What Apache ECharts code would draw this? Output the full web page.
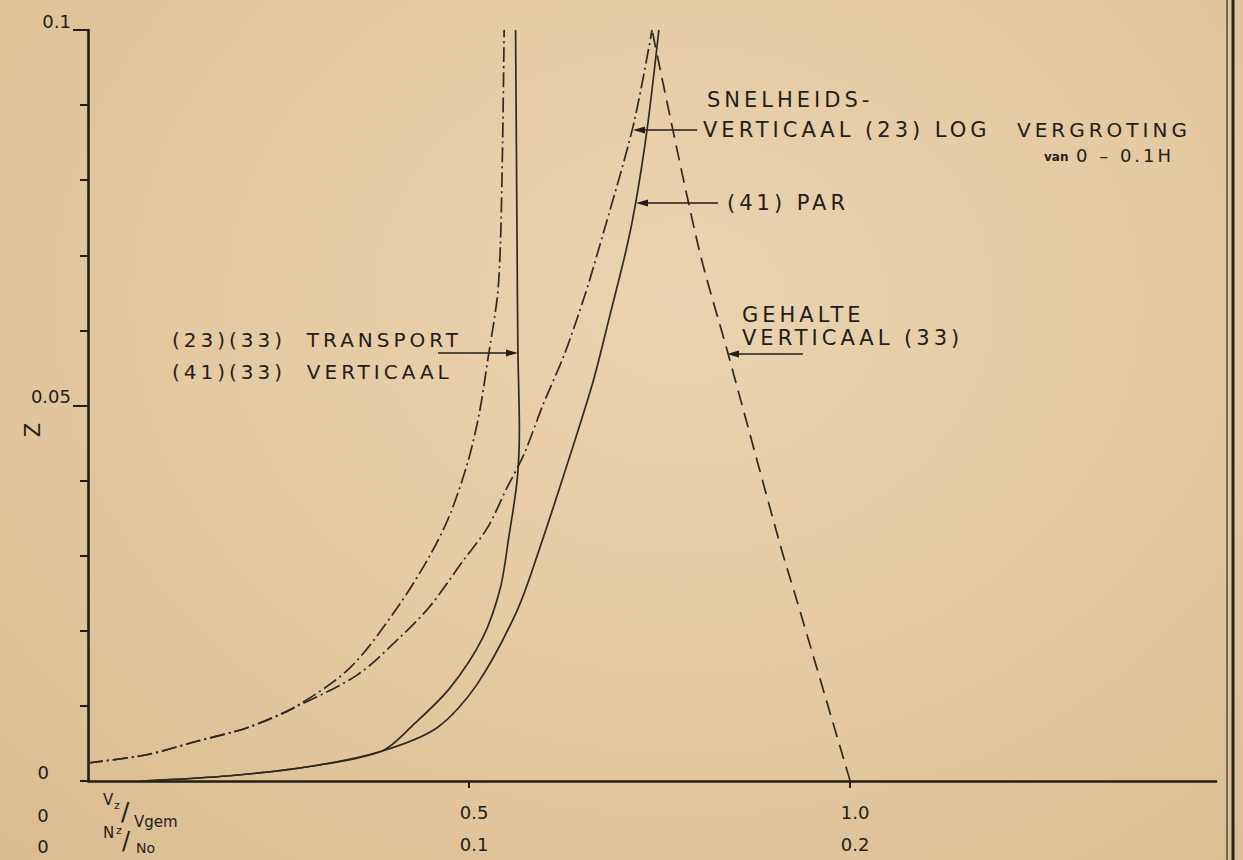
<!DOCTYPE html>
<html><head><meta charset="utf-8">
<script src="https://cdn.jsdelivr.net/npm/echarts@6/dist/echarts.min.js"></script>
<style>
html,body{margin:0;padding:0;background:#e4c8a0;}
#chart{width:1243px;height:860px;background:radial-gradient(ellipse at 55% 35%, #ead3b0 0%, #e4c8a0 55%, #dbbc91 100%);}
</style></head><body><div id="chart"></div>
<script>
// ---- axis tick labels ----
const xTickValues = [0.5, 1.0];
const xTickLabelsV = ['0.5', '1.0'];   // Vz/Vgem
const xTickLabelsN = ['0.1', '0.2'];   // Nz/No
const yLabelValues = [0, 0.05, 0.1];
const yLabelTexts = ['0', '0.05', '0.1'];

// ---- (41) PAR  snelheidsverticaal (solid) ----
const parV = [0.07, 0.186, 0.295, 0.386, 0.458, 0.510, 0.563, 0.593, 0.633, 0.663, 0.685, 0.707, 0.719, 0.734, 0.749];
const parZ = [0, 0.0007, 0.002, 0.004, 0.0071, 0.0128, 0.0227, 0.0311, 0.0435, 0.0533, 0.0621, 0.0711, 0.0772, 0.0871, 0.1];

// ---- (41)(33) transportverticaal (solid) ----
const tr41V = [0.07, 0.186, 0.295, 0.386, 0.427, 0.475, 0.518, 0.541, 0.552, 0.563, 0.566, 0.564, 0.563, 0.561];
const tr41Z = [0, 0.0007, 0.002, 0.004, 0.0075, 0.0124, 0.0191, 0.0257, 0.0324, 0.040, 0.0467, 0.0577, 0.0711, 0.1];

// ---- (23) LOG snelheidsverticaal (dash-dot) ----
const logV = [0, 0.077, 0.143, 0.209, 0.269, 0.353, 0.409, 0.449, 0.492, 0.524, 0.550, 0.572, 0.597, 0.625, 0.651, 0.668, 0.715, 0.740];
const logZ = [0.0024, 0.0035, 0.0053, 0.0071, 0.0097, 0.0141, 0.0191, 0.0233, 0.0293, 0.0337, 0.0391, 0.0435, 0.0501, 0.0568, 0.0644, 0.0701, 0.0871, 0.1];

// ---- (23)(33) transportverticaal (dash-dot) ----
const tr23V = [0, 0.077, 0.143, 0.209, 0.269, 0.344, 0.406, 0.449, 0.475, 0.499, 0.514, 0.525, 0.537, 0.541, 0.544, 0.546];
const tr23Z = [0.0024, 0.0035, 0.0053, 0.0071, 0.0097, 0.0151, 0.0231, 0.0301, 0.0355, 0.0427, 0.0493, 0.0564, 0.0644, 0.0711, 0.085, 0.1];

// ---- (33) gehalteverticaal (dashed) ----
const gehV = [1.0, 0.929, 0.908, 0.839, 0.801, 0.740];
const gehZ = [0, 0.0244, 0.0315, 0.0572, 0.0711, 0.1];

const FONT = '"DejaVu Sans", "Liberation Sans", sans-serif';
const INK = '#221e1a';
const LINE = '#2f2924';

function zip(v, z) { return v.map((x, i) => [x, z[i]]); }

function txt(x, y, s, size, extra) {
  return {
    type: 'text', x: x, y: y, silent: true,
    style: Object.assign({
      text: s, fontSize: size, fontFamily: FONT, fill: INK,
      textAlign: 'left', textVerticalAlign: 'middle', align: 'left', verticalAlign: 'middle'
    }, extra || {})
  };
}
function arrow(x1, y, x2) {
  const d = x2 > x1 ? 1 : -1;
  return [
    { type: 'line', silent: true, shape: { x1: x1, y1: y, x2: x2 - d * 6, y2: y }, style: { stroke: INK, lineWidth: 1.7 } },
    { type: 'polygon', silent: true, shape: { points: [[x2, y], [x2 - d * 12, y - 3.4], [x2 - d * 12, y + 3.4]] }, style: { fill: INK } }
  ];
}

const chart = echarts.init(document.getElementById('chart'), null, { renderer: 'svg', width: 1243, height: 860 });

function lineSeries(name, v, z, type, w) {
  return {
    name: name, type: 'line', data: zip(v, z), showSymbol: false, symbol: 'none',
    smooth: 0.3, silent: true, z: 3,
    lineStyle: { color: LINE, width: w || 1.7, type: type, cap: 'butt' }
  };
}

const graphics = [].concat(
  // annotations
  txt(707, 100, 'SNELHEIDS-', 21),
  txt(703, 130, 'VERTICAAL (23) LOG', 21),
  arrow(697, 130, 633),
  txt(727, 203, '(41) PAR', 21),
  arrow(718, 203, 636),
  txt(1017, 130, 'VERGROTING', 20),
  txt(1044, 157, 'van', 12, { fontWeight: 'bold' }),
  txt(1076, 155, '0 – 0.1H', 18),
  txt(172, 340, '(23)(33)  TRANSPORT', 20),
  txt(172, 372, '(41)(33)  VERTICAAL', 20),
  arrow(438, 353, 518),
  txt(742, 315, 'GEHALTE', 21),
  txt(742, 338, 'VERTICAAL (33)', 21),
  arrow(803, 354, 727),
  // axis name Z
  txt(33, 430, 'Z', 21, { textAlign: 'center', align: 'center' }),
  // origin labels of the two x scales
  txt(43, 815, '0', 18, { textAlign: 'center', align: 'center' }),
  txt(43, 846, '0', 18, { textAlign: 'center', align: 'center' }),
  txt(103, 800, 'V', 15),
  txt(114, 805, 'z', 11),
  txt(121, 811, '/', 25),
  txt(134, 822, 'Vgem', 15),
  txt(103, 833, 'N', 15),
  txt(116, 830, 'z', 11),
  txt(122, 841, '/', 24),
  txt(136, 848, 'No', 14),
  // right frame double line
  [{ type: 'line', silent: true, shape: { x1: 1227, y1: 0, x2: 1227, y2: 860 }, style: { stroke: '#4a423a', lineWidth: 1.4 } },
   { type: 'line', silent: true, shape: { x1: 1233, y1: 0, x2: 1233, y2: 860 }, style: { stroke: '#2a2520', lineWidth: 3 } }]
);
graphics.forEach(g => { if (g.type === 'text' && g.style.text === 'Z') g.rotation = Math.PI / 2; });

const axisLineStyle = { color: INK, width: 2.6 };

chart.setOption({
  animation: false,
  backgroundColor: 'transparent',
  grid: { left: 88, right: 27, top: 30, bottom: 77, containLabel: false },
  xAxis: {
    type: 'value', min: 0, max: 1.48, interval: 0.5,
    axisLine: { show: true, onZero: false, lineStyle: axisLineStyle },
    axisTick: { show: true, customValues: xTickValues, length: 7, lineStyle: { color: INK, width: 2 } },
    axisLabel: {
      customValues: xTickValues, margin: 15, lineHeight: 32, fontSize: 18, color: INK, fontFamily: FONT,
      padding: [0, 0, 0, 10],
      formatter: function (v) {
        const i = xTickValues.findIndex(t => Math.abs(t - v) < 1e-9);
        return i < 0 ? '' : xTickLabelsV[i] + '\n' + xTickLabelsN[i];
      }
    },
    splitLine: { show: false }
  },
  yAxis: [{
    type: 'value', min: 0, max: 0.1, interval: 0.01, position: 'left',
    axisLine: { show: true, onZero: false, lineStyle: axisLineStyle },
    axisTick: { show: true, length: 8, lineStyle: { color: INK, width: 2 } },
    axisLabel: { show: false },
    splitLine: { show: false }
  }, {
    type: 'value', min: 0, max: 0.1, interval: 0.01, position: 'left', offset: 0,
    axisLine: { show: false },
    axisTick: { show: true, customValues: [0.05, 0.1], length: 15, lineStyle: { color: INK, width: 2 } },
    axisLabel: {
      customValues: yLabelValues, margin: 17, fontSize: 18, color: INK, fontFamily: FONT,
      verticalAlign: 'bottom',
      formatter: function (v) {
        const i = yLabelValues.findIndex(t => Math.abs(t - v) < 1e-9);
        if (i < 0) return '';
        return i === 0 ? '{o|' + yLabelTexts[i] + '}' : yLabelTexts[i];
      },
      rich: { o: { fontSize: 18, color: INK, fontFamily: FONT, padding: [0, 22, 0, 0] } }
    },
    splitLine: { show: false }
  }],
  series: [
    lineSeries('(41) PAR', parV, parZ, 'solid'),
    lineSeries('(41)(33) transport', tr41V, tr41Z, 'solid'),
    lineSeries('(23) LOG', logV, logZ, [15, 4, 2, 4]),
    lineSeries('(23)(33) transport', tr23V, tr23Z, [15, 4, 2, 4]),
    lineSeries('(33) gehalte', gehV, gehZ, [15, 8])
  ],
  graphic: { elements: graphics }
});

function spaceLetters() {
  document.querySelectorAll('#chart svg text').forEach(t => {
    const s = t.textContent || '';
    if (/[A-Z]{3,}/.test(s)) t.style.letterSpacing = '4px';
    else if (/0 – 0\.1H/.test(s)) t.style.letterSpacing = '3px';
  });
}
spaceLetters();
chart.on('finished', spaceLetters);
setTimeout(spaceLetters, 50);
setTimeout(spaceLetters, 300);
</script></body></html>
